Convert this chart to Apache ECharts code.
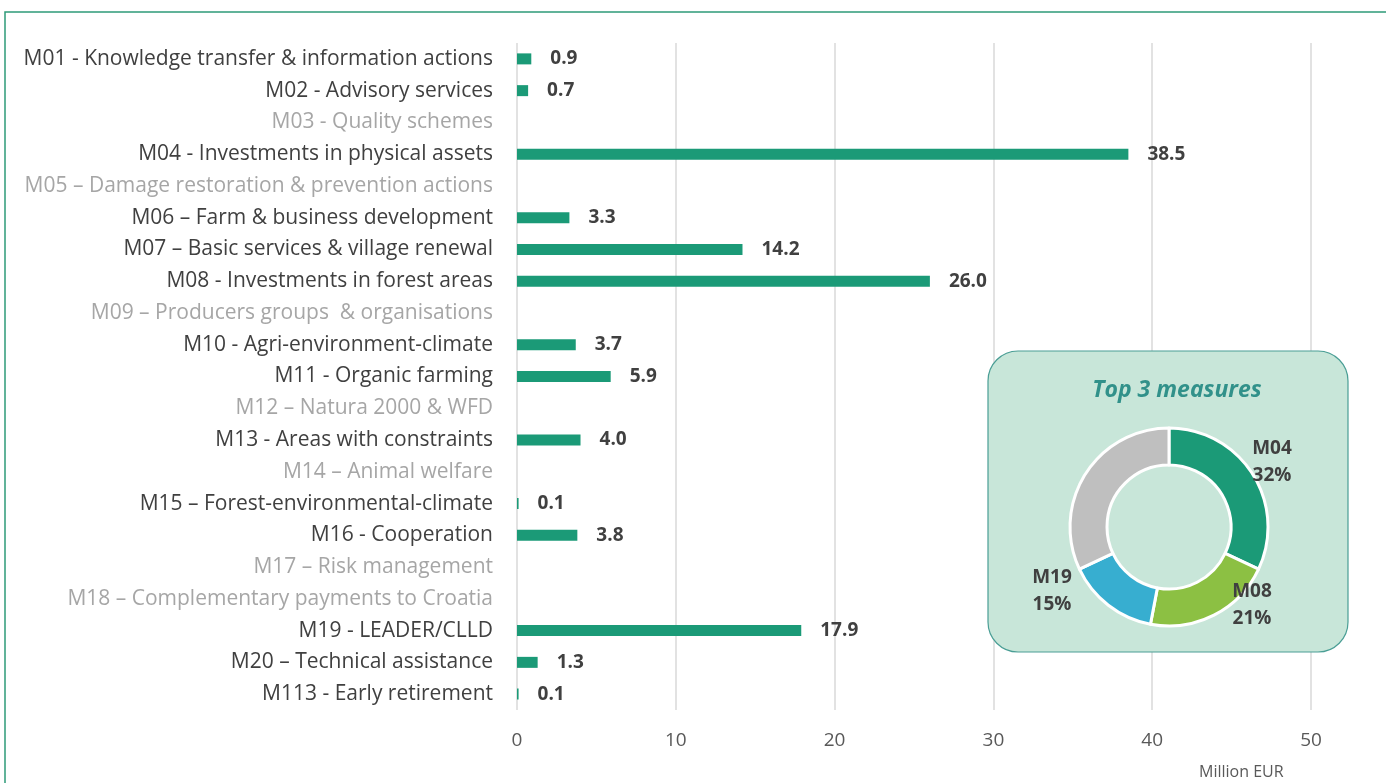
<!DOCTYPE html>
<html>
<head>
  <meta charset="UTF-8">
  <script src="https://cdn.jsdelivr.net/npm/echarts@6/dist/echarts.min.js"></script>
  <style>
    html, body { margin: 0; padding: 0; background: #fff; }
    #main { width: 1386px; height: 783px; }
  </style>
</head>
<body>
  <div id="main"></div>
  <script>
    // measures (top to bottom)
    var measures = [
      'M01 - Knowledge transfer & information actions',
      'M02 - Advisory services',
      'M03 - Quality schemes',
      'M04 - Investments in physical assets',
      'M05 – Damage restoration & prevention actions',
      'M06 – Farm & business development',
      'M07 – Basic services & village renewal',
      'M08 - Investments in forest areas',
      'M09 – Producers groups  & organisations',
      'M10 - Agri-environment-climate',
      'M11 - Organic farming',
      'M12 – Natura 2000 & WFD',
      'M13 - Areas with constraints',
      'M14 – Animal welfare',
      'M15 – Forest-environmental-climate',
      'M16 - Cooperation',
      'M17 – Risk management',
      'M18 – Complementary payments to Croatia',
      'M19 - LEADER/CLLD',
      'M20 – Technical assistance',
      'M113 - Early retirement'
    ];
    // million EUR, null = no budget
    var amounts = [0.9, 0.7, null, 38.5, null, 3.3, 14.2, 26.0, null, 3.7, 5.9, null, 4.0, null, 0.1, 3.8, null, null, 17.9, 1.3, 0.1];
    var xTicks = [0, 10, 20, 30, 40, 50];

    // donut: top 3 measures share
    var topNames = ['M04', 'M08', 'M19', 'Other'];
    var topShares = [32, 21, 15, 32];
    var topColors = ['#1b9a77', '#8cc043', '#37aed0', '#bfbfbf'];

    var font = '"Open Sans", sans-serif';
    var chart = echarts.init(document.getElementById('main'));

    var donutLabelPos = [[1272, 462], [1252, 605], [1052, 591]];

    chart.setOption({
      animation: false,
      textStyle: { fontFamily: font },
      title: {
        text: 'Top 3 measures',
        left: 1172,
        top: 374,
        textAlign: 'center',
        textStyle: { color: '#31918a', fontSize: 23, fontStyle: 'italic', fontWeight: 'bold', fontFamily: font }
      },
      graphic: [
        {
          type: 'rect', z: -10,
          shape: { x: 5, y: 12, width: 1400, height: 800 },
          style: { fill: 'none', stroke: '#2e9a78', lineWidth: 1.5 }
        },
        {
          type: 'rect', z: 1,
          shape: { x: 988, y: 351, width: 360, height: 301, r: 30 },
          style: { fill: '#c8e6d9', stroke: '#4a9e95', lineWidth: 1.2 }
        },
        {
          type: 'text', z: 5,
          left: 1199, top: 764,
          style: { text: 'Million EUR', fontSize: 16, fill: '#595959', fontFamily: font }
        }
      ],
      grid: { left: 517, right: 75, top: 43, bottom: 73, containLabel: false },
      xAxis: {
        type: 'value',
        min: 0, max: 50, interval: 10,
        axisLine: { show: false },
        axisTick: { show: false },
        splitLine: { show: true, lineStyle: { color: '#d9d9d9', width: 1.5 } },
        axisLabel: {
          margin: 21, fontSize: 19, color: '#595959',
          formatter: function (v) { return xTicks.indexOf(v) >= 0 ? String(v) : ''; }
        }
      },
      yAxis: {
        type: 'category',
        inverse: true,
        data: measures,
        axisLine: { show: false },
        axisTick: { show: false },
        splitLine: { show: false },
        axisLabel: {
          margin: 24, interval: 0,
          formatter: function (v, i) {
            return (amounts[i] == null ? '{g|' : '{d|') + v + '}';
          },
          rich: {
            d: { fontSize: 21, color: '#404040', fontFamily: font },
            g: { fontSize: 21, color: '#a6a6a6', fontFamily: font }
          }
        }
      },
      series: [
        {
          type: 'bar',
          data: amounts,
          barWidth: 11,
          itemStyle: { color: '#1b9a77' },
          label: {
            show: true, position: 'right', distance: 19,
            fontSize: 19, fontWeight: 'bold', color: '#404040', fontFamily: font,
            formatter: function (p) { return p.value == null ? '' : p.value.toFixed(1); }
          }
        },
        {
          type: 'pie',
          z: 5,
          center: [1169, 527],
          radius: [62, 99],
          startAngle: 90,
          clockwise: true,
          silent: true,
          itemStyle: { borderColor: '#fff', borderWidth: 3 },
          label: {
            show: true, position: 'outside',
            formatter: function (p) { return p.dataIndex < 3 ? p.name + '\n' + p.value + '%' : ''; },
            fontSize: 19, fontWeight: 'bold', color: '#404040', lineHeight: 27, fontFamily: font
          },
          labelLine: { show: false },
          labelLayout: function (p) {
            var pos = donutLabelPos[p.dataIndex];
            if (!pos) return {};
            return { x: pos[0], y: pos[1], align: 'center', verticalAlign: 'middle' };
          },
          data: topNames.map(function (n, i) {
            return { name: n, value: topShares[i], itemStyle: { color: topColors[i] } };
          })
        }
      ]
    });
  </script>
</body>
</html>
